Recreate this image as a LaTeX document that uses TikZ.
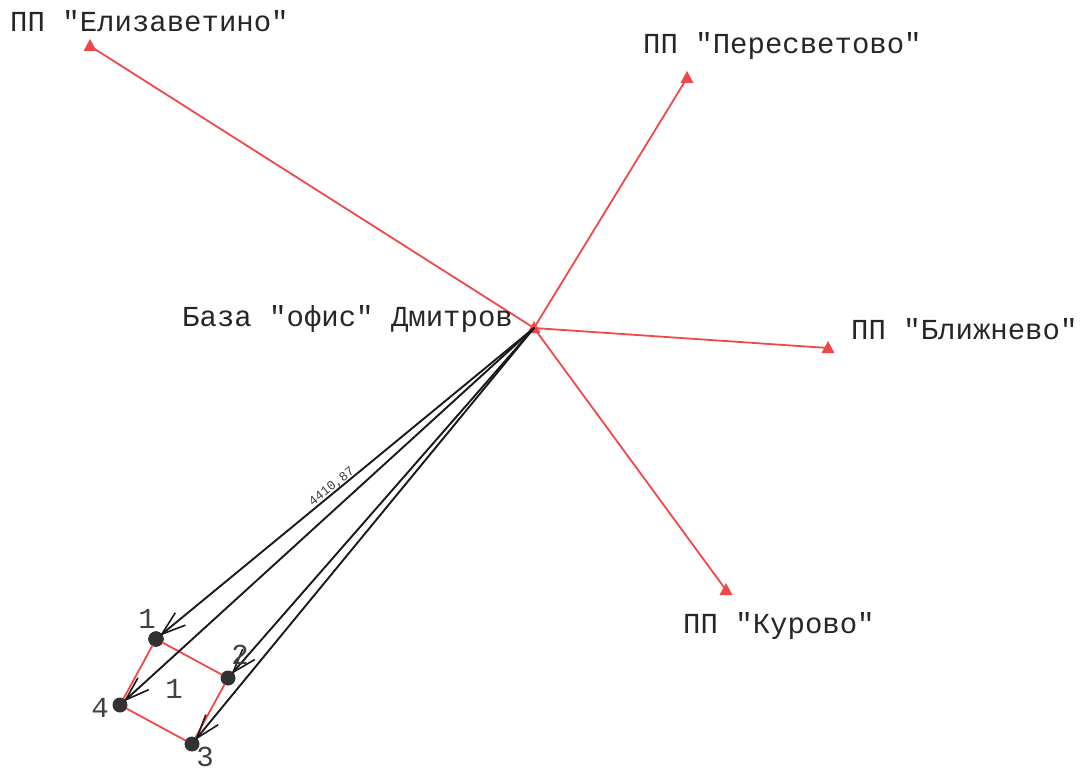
\documentclass[tikz,border=0pt]{standalone}
\usepackage{fontspec}
\setmainfont[Ligatures=TeXOff]{Liberation Mono}
\usetikzlibrary{arrows.meta,calc}
\definecolor{trace}{RGB}{240,72,72}
\definecolor{pointfill}{RGB}{50,50,50}
\tikzset{
 redline/.style={draw=trace,line width=1.8pt},
 blackline/.style={draw=black!90,line width=1.9pt,shorten >=5pt,-{Straight Barb[length=24pt,width=16pt,line width=1.6pt]}},
 point/.style={circle,fill=pointfill,inner sep=0pt,minimum size=15pt},
 bigtext/.style={font=\fontsize{29}{29}\selectfont,inner sep=0pt,text=black!85},
 numtext/.style={font=\fontsize{29}{29}\selectfont,inner sep=0pt,text=black!75},
}
\newcommand{\tri}[1]{\fill[trace] ($(#1)+(0,-7)$)--($(#1)+(6.5,5)$)--($(#1)+(-6.5,5)$)--cycle;}
\begin{document}
\begin{tikzpicture}[x=1pt,y=-1pt,line join=round,line cap=round]
\useasboundingbox (0,0) rectangle (1086,770);
% stations
\coordinate (baza) at (534,328);
\coordinate (eliz) at (90,46);
\coordinate (peres) at (687,78);
\coordinate (blizh) at (828,348);
\coordinate (kurovo) at (726,590);
% red lines
\foreach \s in {eliz,peres,blizh,kurovo}
\draw[redline] (baza)--(\s);
\foreach \s in {baza,eliz,peres,blizh,kurovo}
\tri{\s}
% plot corners
\node[point] (p1) at (156,639) {};
\node[point] (p2) at (228,678) {};
\node[point] (p3) at (192,744) {};
\node[point] (p4) at (120,705) {};
\draw[redline] (p1)--(p2)--(p3)--(p4)--(p1);
% black lines
\foreach \p in {p1,p2,p3,p4}
\draw[blackline] (baza)--(\p.center);
% labels
\node[bigtext,anchor=west] (teliz) at (10,21) {ПП "Елизаветино"};
\node[bigtext,anchor=west] (tperes) at (643,46) {ПП "Пересветово"};
\node[bigtext,anchor=west] (tbaza) at (182,319) {База "офис" Дмитров};
\node[bigtext,anchor=west] (tblizh) at (851,329) {ПП "Ближнево"};
\node[bigtext,anchor=west] (tkurovo) at (683,626) {ПП "Курово"};
\node[numtext] (n1) at (147,619) {1};
\node[numtext] (n2) at (240,655) {2};
\node[numtext] (n3) at (205,757) {3};
\node[numtext] (n4) at (100,708) {4};
\node[numtext] (n5) at (174,689) {1};
\node[inner sep=0pt,rotate=39,font=\fontsize{13}{13}\selectfont,text=black!75] (dist) at (332,487) {4410,87};
\end{tikzpicture}
\end{document}
